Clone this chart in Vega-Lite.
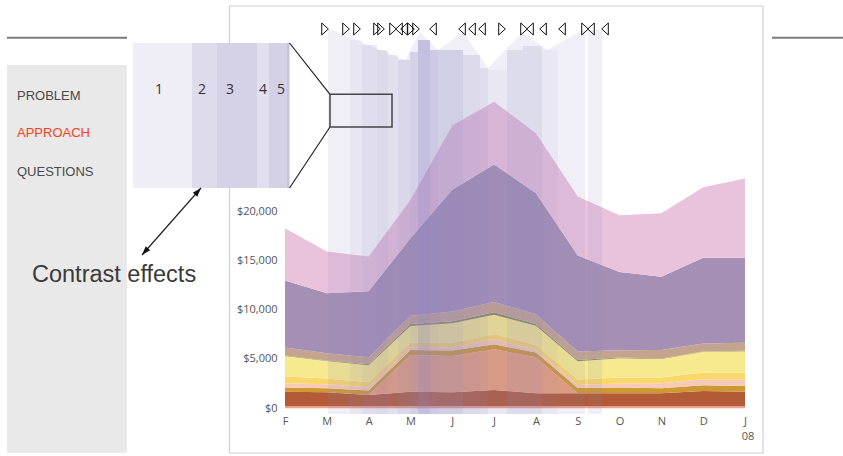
{
"$schema":"https://vega.github.io/schema/vega-lite/v6.json",
"width":564,"height":414,"padding":{"left":279,"top":0,"right":0,"bottom":42},"autosize":{"type":"none"},
"background":"#ffffff",
"config":{"view":{"stroke":null}},
"resolve":{"scale":{"color":"independent"}},
"datasets":{
"panel":[{"x":-6.648,"x2":-3.778,"y":34800,"y2":-4501}],
"lines":[{"x":-6.648,"x2":-3.778,"y":37568},{"x":11.646,"x2":13.343,"y":37568}],
"frame":[{"x":-1.327,"x2":11.431,"y":40781,"y2":-4531}],
"areas":[
{"m":0,"s":"salmon","o":1,"v":200},{"m":1,"s":"salmon","o":1,"v":200},{"m":2,"s":"salmon","o":1,"v":200},{"m":3,"s":"salmon","o":1,"v":200},{"m":4,"s":"salmon","o":1,"v":200},{"m":5,"s":"salmon","o":1,"v":200},{"m":6,"s":"salmon","o":1,"v":200},{"m":7,"s":"salmon","o":1,"v":200},{"m":8,"s":"salmon","o":1,"v":200},{"m":9,"s":"salmon","o":1,"v":200},{"m":10,"s":"salmon","o":1,"v":200},{"m":11,"s":"salmon","o":1,"v":200},
{"m":0,"s":"rust","o":2,"v":1490},{"m":1,"s":"rust","o":2,"v":1420},{"m":2,"s":"rust","o":2,"v":1150},{"m":3,"s":"rust","o":2,"v":1490},{"m":4,"s":"rust","o":2,"v":1420},{"m":5,"s":"rust","o":2,"v":1660},{"m":6,"s":"rust","o":2,"v":1320},{"m":7,"s":"rust","o":2,"v":1320},{"m":8,"s":"rust","o":2,"v":1320},{"m":9,"s":"rust","o":2,"v":1320},{"m":10,"s":"rust","o":2,"v":1560},{"m":11,"s":"rust","o":2,"v":1490},
{"m":0,"s":"orange","o":3,"v":0},{"m":1,"s":"orange","o":3,"v":0},{"m":2,"s":"orange","o":3,"v":0},{"m":3,"s":"orange","o":3,"v":3716},{"m":4,"s":"orange","o":3,"v":3685},{"m":5,"s":"orange","o":3,"v":4121},{"m":6,"s":"orange","o":3,"v":3650},{"m":7,"s":"orange","o":3,"v":0},{"m":8,"s":"orange","o":3,"v":0},{"m":9,"s":"orange","o":3,"v":0},{"m":10,"s":"orange","o":3,"v":0},{"m":11,"s":"orange","o":3,"v":0},
{"m":0,"s":"darkgold","o":4,"v":420},{"m":1,"s":"darkgold","o":4,"v":420},{"m":2,"s":"darkgold","o":4,"v":450},{"m":3,"s":"darkgold","o":4,"v":500},{"m":4,"s":"darkgold","o":4,"v":550},{"m":5,"s":"darkgold","o":4,"v":500},{"m":6,"s":"darkgold","o":4,"v":480},{"m":7,"s":"darkgold","o":4,"v":550},{"m":8,"s":"darkgold","o":4,"v":580},{"m":9,"s":"darkgold","o":4,"v":500},{"m":10,"s":"darkgold","o":4,"v":570},{"m":11,"s":"darkgold","o":4,"v":580},
{"m":0,"s":"peach","o":5,"v":439},{"m":1,"s":"peach","o":5,"v":406},{"m":2,"s":"peach","o":5,"v":338},{"m":3,"s":"peach","o":5,"v":271},{"m":4,"s":"peach","o":5,"v":338},{"m":5,"s":"peach","o":5,"v":540},{"m":6,"s":"peach","o":5,"v":270},{"m":7,"s":"peach","o":5,"v":304},{"m":8,"s":"peach","o":5,"v":405},{"m":9,"s":"peach","o":5,"v":510},{"m":10,"s":"peach","o":5,"v":610},{"m":11,"s":"peach","o":5,"v":650},
{"m":0,"s":"gold","o":6,"v":676},{"m":1,"s":"gold","o":6,"v":574},{"m":2,"s":"gold","o":6,"v":507},{"m":3,"s":"gold","o":6,"v":473},{"m":4,"s":"gold","o":6,"v":439},{"m":5,"s":"gold","o":6,"v":507},{"m":6,"s":"gold","o":6,"v":507},{"m":7,"s":"gold","o":6,"v":541},{"m":8,"s":"gold","o":6,"v":608},{"m":9,"s":"gold","o":6,"v":600},{"m":10,"s":"gold","o":6,"v":680},{"m":11,"s":"gold","o":6,"v":680},
{"m":0,"s":"yellow","o":7,"v":2069},{"m":1,"s":"yellow","o":7,"v":1765},{"m":2,"s":"yellow","o":7,"v":1725},{"m":3,"s":"yellow","o":7,"v":1692},{"m":4,"s":"yellow","o":7,"v":1997},{"m":5,"s":"yellow","o":7,"v":1947},{"m":6,"s":"yellow","o":7,"v":1929},{"m":7,"s":"yellow","o":7,"v":1843},{"m":8,"s":"yellow","o":7,"v":1948},{"m":9,"s":"yellow","o":7,"v":1870},{"m":10,"s":"yellow","o":7,"v":2100},{"m":11,"s":"yellow","o":7,"v":2176},
{"m":0,"s":"olive","o":8,"v":60},{"m":1,"s":"olive","o":8,"v":60},{"m":2,"s":"olive","o":8,"v":100},{"m":3,"s":"olive","o":8,"v":200},{"m":4,"s":"olive","o":8,"v":200},{"m":5,"s":"olive","o":8,"v":250},{"m":6,"s":"olive","o":8,"v":200},{"m":7,"s":"olive","o":8,"v":150},{"m":8,"s":"olive","o":8,"v":80},{"m":9,"s":"olive","o":8,"v":60},{"m":10,"s":"olive","o":8,"v":50},{"m":11,"s":"olive","o":8,"v":50},
{"m":0,"s":"tan","o":9,"v":811},{"m":1,"s":"tan","o":9,"v":743},{"m":2,"s":"tan","o":9,"v":709},{"m":3,"s":"tan","o":9,"v":845},{"m":4,"s":"tan","o":9,"v":980},{"m":5,"s":"tan","o":9,"v":1047},{"m":6,"s":"tan","o":9,"v":980},{"m":7,"s":"tan","o":9,"v":845},{"m":8,"s":"tan","o":9,"v":743},{"m":9,"s":"tan","o":9,"v":840},{"m":10,"s":"tan","o":9,"v":810},{"m":11,"s":"tan","o":9,"v":811},
{"m":0,"s":"purple","o":10,"v":6785},{"m":1,"s":"purple","o":10,"v":6082},{"m":2,"s":"purple","o":10,"v":6683},{"m":3,"s":"purple","o":10,"v":7839},{"m":4,"s":"purple","o":10,"v":12333},{"m":5,"s":"purple","o":10,"v":13954},{"m":6,"s":"purple","o":10,"v":12265},{"m":7,"s":"purple","o":10,"v":9728},{"m":8,"s":"purple","o":10,"v":7934},{"m":9,"s":"purple","o":10,"v":7440},{"m":10,"s":"purple","o":10,"v":8690},{"m":11,"s":"purple","o":10,"v":8613},
{"m":0,"s":"pink","o":11,"v":5312},{"m":1,"s":"pink","o":11,"v":4224},{"m":2,"s":"pink","o":11,"v":3522},{"m":3,"s":"pink","o":11,"v":3886},{"m":4,"s":"pink","o":11,"v":6518},{"m":5,"s":"pink","o":11,"v":6347},{"m":6,"s":"pink","o":11,"v":6082},{"m":7,"s":"pink","o":11,"v":5980},{"m":8,"s":"pink","o":11,"v":5747},{"m":9,"s":"pink","o":11,"v":6427},{"m":10,"s":"pink","o":11,"v":7130},{"m":11,"s":"pink","o":11,"v":8045}
],
"envelope":[{"x":1.028,"y":38550},{"x":2.87,"y":35307},{"x":3.228,"y":38146},{"x":3.659,"y":36321},{"x":4.257,"y":38146},{"x":4.854,"y":34496},{"x":5.691,"y":38146},{"x":6.265,"y":36321},{"x":7.126,"y":38349},{"x":7.174,"y":38349}],
"stripes":[
{"x":1.554,"x2":1.841,"y":37335,"w":0.08},
{"x":1.841,"x2":2.2,"y":36828,"w":0.16},
{"x":2.2,"x2":2.463,"y":36321,"w":0.2},
{"x":2.463,"x2":2.702,"y":35814,"w":0.14},
{"x":2.702,"x2":2.989,"y":35307,"w":0.22},
{"x":2.989,"x2":3.18,"y":36118,"w":0.28},
{"x":3.18,"x2":3.467,"y":37335,"w":0.45},
{"x":3.467,"x2":3.659,"y":36321,"w":0.34},
{"x":3.659,"x2":4.257,"y":36321,"w":0.3},
{"x":4.257,"x2":4.663,"y":35814,"w":0.2},
{"x":4.663,"x2":4.854,"y":34496,"w":0.16},
{"x":4.854,"x2":5.309,"y":34293,"w":0.07},
{"x":5.309,"x2":5.691,"y":36321,"w":0.18},
{"x":5.691,"x2":6.146,"y":36726,"w":0.18},
{"x":6.146,"x2":6.528,"y":36321,"w":0.07},
{"x":7.246,"x2":7.58,"y":38349,"w":0.13}
],
"marks":[{"x":0.957,"d":"r"},{"x":1.459,"d":"r"},{"x":1.722,"d":"r"},{"x":2.2,"d":"r"},{"x":2.296,"d":"r"},{"x":2.583,"d":"r"},{"x":2.726,"d":"l"},{"x":2.846,"d":"l"},{"x":3.013,"d":"r"},{"x":3.133,"d":"r"},{"x":3.539,"d":"l"},{"x":4.233,"d":"l"},{"x":4.472,"d":"l"},{"x":4.711,"d":"l"},{"x":5.189,"d":"r"},{"x":5.715,"d":"r"},{"x":5.859,"d":"l"},{"x":6.17,"d":"l"},{"x":6.624,"d":"l"},{"x":7.174,"d":"r"},{"x":7.317,"d":"l"},{"x":7.652,"d":"l"}],
"inset":[
{"x":-3.635,"x2":-2.224,"b":"a"},
{"x":-2.224,"x2":-1.626,"b":"b"},
{"x":-1.626,"x2":-0.67,"b":"c"},
{"x":-0.67,"x2":-0.383,"b":"d"},
{"x":-0.383,"x2":0.048,"b":"e"},
{"x":0.048,"x2":0.108,"b":"f"}
],
"insetNums":[{"x":-3.013,"t":"1"},{"x":-1.985,"t":"2"},{"x":-1.315,"t":"3"},{"x":-0.526,"t":"4"},{"x":-0.096,"t":"5"}],
"links":[
{"x":0.108,"y":37030,"x2":1.076,"y2":31830},
{"x":0.108,"y":22331,"x2":1.076,"y2":28516},
{"x":-3.42,"y":15540,"x2":-2.009,"y2":22331}
],
"zoomBox":[{"x":1.076,"x2":2.559,"y":31830,"y2":28516}],
"heads":[{"x":-2.009,"y":22331,"a":41.4},{"x":-3.42,"y":15540,"a":221.4}],
"menu":[{"x":-6.409,"y":31688,"t":"PROBLEM","st":"other"},{"x":-6.409,"y":27907,"t":"APPROACH","st":"current"},{"x":-6.409,"y":23953,"t":"QUESTIONS","st":"other"}],
"caption":[{"x":-6.05,"y":13514,"t":"Contrast effects"}],
"year":[{"x":11.072,"y":-2909,"t":"08"}]
},
"layer":[
{"data":{"name":"frame"},"mark":{"type":"rect","fillOpacity":0,"stroke":"#cfd0d6","strokeWidth":1.2},
 "encoding":{"x":{"field":"x","type":"quantitative"},"x2":{"field":"x2"},"y":{"field":"y","type":"quantitative"},"y2":{"field":"y2"}}},
{"data":{"name":"panel"},"mark":{"type":"rect","fill":"#e9e9e9"},
 "encoding":{"x":{"field":"x","type":"quantitative"},"x2":{"field":"x2"},"y":{"field":"y","type":"quantitative"},"y2":{"field":"y2"}}},
{"data":{"name":"lines"},"mark":{"type":"rule","stroke":"#7b7b7b","strokeWidth":2},
 "encoding":{"x":{"field":"x","type":"quantitative"},"x2":{"field":"x2"},"y":{"field":"y","type":"quantitative"}}},
{"data":{"name":"areas"},"mark":{"type":"area","interpolate":"linear"},
 "encoding":{
  "x":{"field":"m","type":"quantitative","scale":{"domain":[-0.1435,13.343],"nice":false,"zero":false},
   "axis":{"orient":"bottom","values":[0,1,2,3,4,5,6,7,8,9,10,11],"labelExpr":"['F','M','A','M','J','J','A','S','O','N','D','J'][datum.value]","domain":false,"ticks":false,"labelPadding":1,"title":null,"grid":false,"labelFont":"Open Sans","labelFontSize":11,"labelColor":"#555555","labelFlush":false,"labelOverlap":false,"zindex":1}},
  "y":{"field":"v","type":"quantitative","stack":"zero","scale":{"domain":[-578,41389],"nice":false,"zero":false},
   "axis":{"orient":"left","values":[0,5000,10000,15000,20000],"format":"$,d","domain":false,"ticks":false,"labelPadding":2,"title":null,"grid":false,"labelFont":"Open Sans","labelFontSize":11,"labelColor":"#555555","labelFlush":false,"labelOverlap":false,"zindex":1}},
  "color":{"field":"s","type":"nominal","legend":null,"scale":{"domain":["salmon","rust","orange","darkgold","peach","gold","yellow","olive","tan","purple","pink"],"range":["#f2a088","#b35b37","#e9a07a","#cf9833","#f5cbb6","#fad76b","#f6e98e","#8f8b57","#c4a48f","#a68fb4","#e9c3dc"]}},
  "order":{"field":"o","type":"quantitative"}}},
{"data":{"name":"envelope"},"mark":{"type":"area","fill":"#8c84c0","opacity":0.13},
 "encoding":{"x":{"field":"x","type":"quantitative"},"y":{"field":"y","type":"quantitative"},"y2":{"datum":-578}}},
{"data":{"name":"stripes"},"mark":{"type":"rect","fill":"#8c84c0"},
 "encoding":{"x":{"field":"x","type":"quantitative"},"x2":{"field":"x2"},"y":{"field":"y","type":"quantitative"},"y2":{"datum":-578},
  "opacity":{"field":"w","type":"quantitative","scale":{"domain":[0,1],"range":[0,1]},"legend":null}}},
{"data":{"name":"marks"},"mark":{"type":"point","filled":false,"stroke":"#111111","strokeWidth":1,"size":144,"opacity":1},
 "encoding":{"x":{"field":"x","type":"quantitative"},"y":{"datum":38450,"type":"quantitative"},
  "shape":{"field":"d","type":"nominal","legend":null,"scale":{"domain":["r","l"],"range":["M-0.55,-1L0.55,0L-0.55,1Z","M0.55,-1L-0.55,0L0.55,1Z"]}}}},
{"data":{"name":"inset"},"mark":{"type":"rect"},
 "encoding":{"x":{"field":"x","type":"quantitative"},"x2":{"field":"x2"},"y":{"datum":37030,"type":"quantitative"},"y2":{"datum":22331},
  "fill":{"field":"b","type":"nominal","legend":null,"scale":{"domain":["a","b","c","d","e","f"],"range":["#efeef6","#dddbec","#d5d2e7","#e2e0ef","#d4d1e7","#c6c2de"]}}}},
{"data":{"name":"insetNums"},"mark":{"type":"text","font":"Open Sans","fontSize":14,"fill":"#333333","align":"center","baseline":"middle"},
 "encoding":{"x":{"field":"x","type":"quantitative"},"y":{"datum":32266,"type":"quantitative"},"text":{"field":"t"}}},
{"data":{"name":"links"},"mark":{"type":"rule","stroke":"#222222","strokeWidth":1.2},
 "encoding":{"x":{"field":"x","type":"quantitative"},"x2":{"field":"x2"},"y":{"field":"y","type":"quantitative"},"y2":{"field":"y2"}}},
{"data":{"name":"zoomBox"},"mark":{"type":"rect","fillOpacity":0,"stroke":"#444444","strokeWidth":1.5},
 "encoding":{"x":{"field":"x","type":"quantitative"},"x2":{"field":"x2"},"y":{"field":"y","type":"quantitative"},"y2":{"field":"y2"}}},
{"data":{"name":"heads"},"mark":{"type":"point","shape":"M0,0L0.65,2L-0.65,2Z","filled":true,"fill":"#111111","size":81,"opacity":1},
 "encoding":{"x":{"field":"x","type":"quantitative"},"y":{"field":"y","type":"quantitative"},"angle":{"field":"a","type":"quantitative","scale":null}}},
{"data":{"name":"menu"},"mark":{"type":"text","font":"Liberation Sans","fontSize":13,"align":"left","baseline":"middle"},
 "encoding":{"x":{"field":"x","type":"quantitative"},"y":{"field":"y","type":"quantitative"},"text":{"field":"t"},
  "color":{"field":"st","type":"nominal","legend":null,"scale":{"domain":["other","current"],"range":["#4a4a4a","#f2411c"]}}}},
{"data":{"name":"caption"},"mark":{"type":"text","font":"Liberation Sans","fontSize":23.5,"fill":"#3a3a3a","align":"left","baseline":"middle"},
 "encoding":{"x":{"field":"x","type":"quantitative"},"y":{"field":"y","type":"quantitative"},"text":{"field":"t"}}},
{"data":{"name":"year"},"mark":{"type":"text","font":"Open Sans","fontSize":11,"fill":"#555555","align":"center","baseline":"middle"},
 "encoding":{"x":{"field":"x","type":"quantitative"},"y":{"field":"y","type":"quantitative"},"text":{"field":"t"}}}
]
}
